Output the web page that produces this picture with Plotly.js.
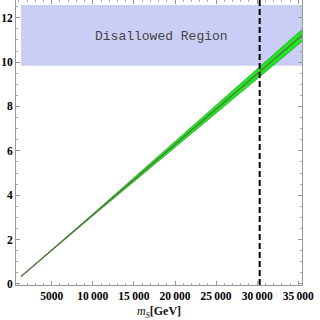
<!DOCTYPE html>
<html>
<head>
<meta charset="utf-8">
<script src="https://cdn.plot.ly/plotly-3.0.1.min.js"></script>
<style>html,body{margin:0;padding:0;background:#fff;}#chart{width:320px;height:320px;}</style>
</head>
<body>
<div id="chart"></div>
<script>
// Data
const mS      = [1265, 5000, 10000, 15000, 20000, 25000, 30000, 35450];
const center  = [0.33, 1.52, 3.11, 4.70, 6.29, 7.88, 9.47, 11.20];
const upper   = [0.33, 1.53, 3.15, 4.79, 6.43, 8.07, 9.70, 11.47];
const lower   = [0.33, 1.51, 3.07, 4.61, 6.15, 7.69, 9.24, 10.93];
const regionX = [1265, 35450];
const regionY = [9.83, 12.58];
const regionLabel = "Disallowed Region";
const cutoffX = 30300;
const xTickVals = [5000, 10000, 15000, 20000, 25000, 30000, 35000];
const xTickText = ["5000", "10\u2009000", "15\u2009000", "20\u2009000", "25\u2009000", "30\u2009000", "35\u2009000"];
const yTickVals = [0, 2, 4, 6, 8, 10, 12];
const yTickText = ["0", "2", "4", "6", "8", "10", "12"];
const xRange = [657, 35450];
const yRange = [-0.05, 12.8];

const traces = [
  { // disallowed region
    x: [regionX[0], regionX[1], regionX[1], regionX[0], regionX[0]],
    y: [regionY[0], regionY[0], regionY[1], regionY[1], regionY[0]],
    mode: 'lines', fill: 'toself',
    fillcolor: 'rgb(202,206,244)', line: {width: 0}, hoverinfo: 'skip'
  },
  { // lower band edge
    x: mS, y: lower, mode: 'lines',
    line: {color: 'rgb(30,165,30)', width: 0.7}, hoverinfo: 'skip'
  },
  { // upper band edge with fill
    x: mS, y: upper, mode: 'lines', fill: 'tonexty',
    fillcolor: 'rgb(35,228,35)',
    line: {color: 'rgb(30,165,30)', width: 0.7}, hoverinfo: 'skip'
  },
  { // central line
    x: mS, y: center, mode: 'lines',
    line: {color: 'rgb(90,110,70)', width: 1.2}, hoverinfo: 'skip'
  },
  { // cutoff dashed line
    x: [cutoffX, cutoffX], y: yRange, mode: 'lines',
    line: {color: 'black', width: 2, dash: '6px,3px'}, hoverinfo: 'skip'
  }
];

const tickFont = {family: 'Liberation Serif', size: 11.5, color: '#000'};

const layout = {
  width: 320, height: 320,
  font: {family: 'Liberation Serif', size: 11, color: '#000'},
  margin: {l: 16, r: 18, t: 0, b: 35},
  paper_bgcolor: '#fff', plot_bgcolor: '#fff',
  showlegend: false,
  xaxis: {
    range: xRange, showgrid: false, zeroline: false,
    showline: true, linecolor: '#999', linewidth: 1, mirror: 'allticks',
    ticks: 'inside', ticklen: 4, tickcolor: '#999',
    tickvals: xTickVals, ticktext: xTickText.map(t => '<b>' + t + '</b>'), tickfont: tickFont,
    minor: {dtick: 1000, tick0: 0, ticks: 'inside', ticklen: 2, tickcolor: '#aaa'},
    title: {text: '<i>m</i><sub><i>S</i></sub><b>[GeV]</b>', font: {family: 'Liberation Serif', size: 12, color: '#111'}, standoff: 8}
  },
  yaxis: {
    range: yRange, showgrid: false, zeroline: false,
    showline: true, linecolor: '#999', linewidth: 1, mirror: 'allticks',
    ticks: 'inside', ticklen: 4, tickcolor: '#999',
    tickvals: yTickVals, ticktext: yTickText.map(t => '<b>' + t + '</b>'), tickfont: tickFont,
    minor: {dtick: 0.5, tick0: 0, ticks: 'inside', ticklen: 2, tickcolor: '#aaa'}
  },
  annotations: [{
    x: (regionX[0] + regionX[1]) / 2, y: (regionY[0] + regionY[1]) / 2 - 0.05,
    xref: 'x', yref: 'y', text: regionLabel, showarrow: false,
    font: {family: 'Liberation Mono', size: 13, color: '#444'}
  }]
};

Plotly.newPlot('chart', traces, layout, {staticPlot: true, displayModeBar: false});
</script>
</body>
</html>
